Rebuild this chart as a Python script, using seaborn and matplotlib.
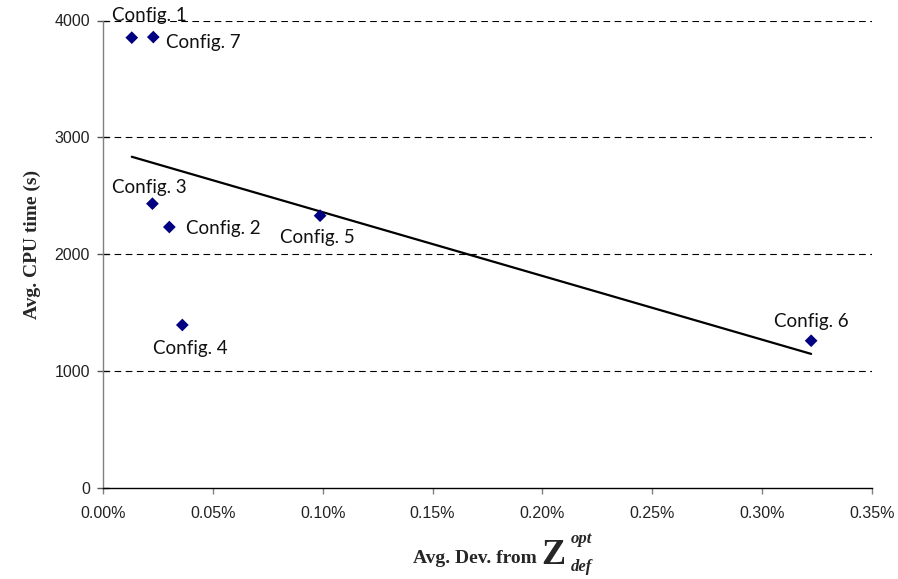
import matplotlib
matplotlib.use("Agg")
import matplotlib.pyplot as plt
from matplotlib.ticker import PercentFormatter
import seaborn as sns
import pandas as pd

configs = ["Config. 1", "Config. 2", "Config. 3", "Config. 4", "Config. 5", "Config. 6", "Config. 7"]
avg_dev_pct = [0.0131, 0.0302, 0.0225, 0.0361, 0.0988, 0.3223, 0.0229]
cpu_time = [3853, 2231, 2431, 1392, 2328, 1257, 3858]
x_ticks = [0.00, 0.05, 0.10, 0.15, 0.20, 0.25, 0.30, 0.35]
y_ticks = [0, 1000, 2000, 3000, 4000]

# label offsets (points) relative to the marker, and alignment
label_offsets = {
    "Config. 1": ((-14, 16), "left"),
    "Config. 7": ((9, -4), "left"),
    "Config. 3": ((-2, 12), "center"),
    "Config. 2": ((12, -1), "left"),
    "Config. 4": ((6, -17), "center"),
    "Config. 5": ((-2, -16), "center"),
    "Config. 6": ((0, 14), "center"),
}

df = pd.DataFrame({"config": configs, "dev": avg_dev_pct, "cpu": cpu_time})

sns.set_theme(style="white")
plt.rcParams["font.family"] = ["Liberation Sans", "DejaVu Sans"]

fig = plt.figure(figsize=(8.98, 5.79), dpi=100)
ax = fig.add_axes([103 / 898, 1 - 487.5 / 579, (872 - 103) / 898, (487.5 - 20.5) / 579])

# grid lines
for yv in y_ticks[1:]:
    ax.axhline(yv, color="black", lw=0.8, ls=(0, (6, 4)), zorder=1)

sns.regplot(data=df, x="dev", y="cpu", scatter=False, ci=None, truncate=True,
            line_kws={"color": "black", "lw": 1.6, "zorder": 2}, ax=ax)
sns.scatterplot(data=df, x="dev", y="cpu", marker="D", s=42, color="#000080",
                edgecolor="none", zorder=3, ax=ax, legend=False)

for c, xv, yv in zip(configs, avg_dev_pct, cpu_time):
    (dx, dy), ha = label_offsets[c]
    ax.annotate(c, (xv, yv), xytext=(dx, dy), textcoords="offset points",
                ha=ha, va="center", fontsize=13.5, family=["Lato", "DejaVu Sans"],
                color="#111111", zorder=4)

ax.set_xlim(0, 0.35)
ax.set_ylim(0, 4000)
ax.set_xticks(x_ticks)
ax.set_yticks(y_ticks)
ax.xaxis.set_major_formatter(PercentFormatter(xmax=100, decimals=2))
ax.set_xlabel("")
ax.set_ylabel("Avg. CPU time (s)", family=["Liberation Serif"], fontweight="bold",
              fontsize=14)
ax.yaxis.set_label_coords(-62 / 769, 0.5 + 10 / 467)

for s in ["top", "right"]:
    ax.spines[s].set_visible(False)
ax.spines["left"].set_color("#808080")
ax.spines["left"].set_linewidth(1.0)
ax.spines["bottom"].set_color("black")
ax.spines["bottom"].set_linewidth(1.0)

ax.tick_params(axis="x", direction="out", length=4, width=1, color="#808080",
               pad=9, bottom=True, labelcolor="#222222")
ax.tick_params(axis="y", direction="inout", length=9, width=1, color="#555555",
               pad=5, left=True, labelcolor="#222222")
for lbl in ax.get_xticklabels() + ax.get_yticklabels():
    lbl.set_fontfamily(["Liberation Sans", "DejaVu Sans"])
    lbl.set_fontsize(11.5)

# x-axis label with Z^{opt}_{def}
fig.text(413 / 898, 1 - 563 / 579, "Avg. Dev. from", family=["Liberation Serif"],
         fontweight="bold", fontsize=14, ha="left", va="baseline")
fig.text(541 / 898, 1 - 564 / 579, "Z", family=["Liberation Serif"],
         fontweight="bold", fontsize=26, ha="left", va="baseline")
fig.text(571 / 898, 1 - 543 / 579, "opt", family=["Liberation Serif"],
         fontweight="bold", style="italic", fontsize=12, ha="left", va="baseline")
fig.text(571 / 898, 1 - 571 / 579, "def", family=["Liberation Serif"],
         fontweight="bold", style="italic", fontsize=12, ha="left", va="baseline")

fig.savefig("out.png", dpi=100)
